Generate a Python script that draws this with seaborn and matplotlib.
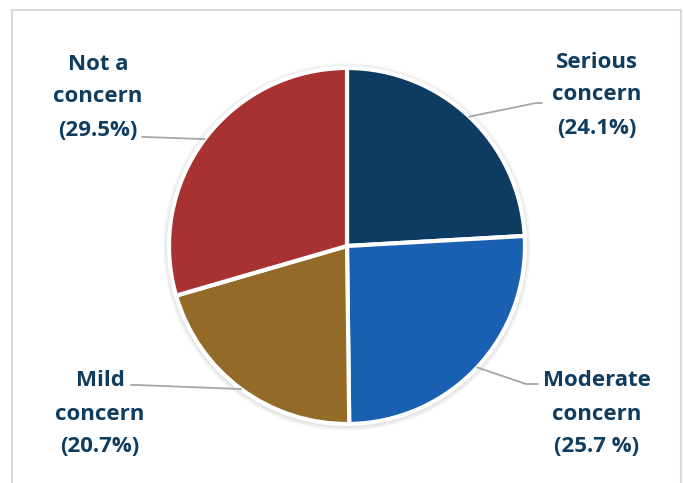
import numpy as np
import matplotlib
matplotlib.use("Agg")
import matplotlib.pyplot as plt
from matplotlib.patches import Rectangle, Circle
import seaborn as sns

sns.set_style("white")
plt.rcParams['font.family'] = ['Open Sans', 'DejaVu Sans']

# data
categories = ["Serious\nconcern", "Moderate\nconcern", "Mild\nconcern", "Not a\nconcern"]
pct_labels = ["(24.1%)", "(25.7 %)", "(20.7%)", "(29.5%)"]
shares = [24.1, 25.7, 20.7, 29.5]
colors = ["#0E3B61", "#1A60B2", "#936A28", "#A83131"]
text_color = "#0F3C5F"

W, H = 684, 483
fig = plt.figure(figsize=(W / 100, H / 100), dpi=100)
ax = fig.add_axes([0, 0, 1, 1])

cx, cy, r = 347, H - 246, 178

# soft shadow around the pie
for k in range(6):
    ax.add_patch(Circle((cx, cy - 1), r + 1 + k, color="black", alpha=0.025, lw=0, zorder=0))

wedges, _ = ax.pie(shares, colors=colors, startangle=90, counterclock=False,
                   center=(cx, cy), radius=r, frame=True,
                   wedgeprops={"edgecolor": "white", "linewidth": 3})
ax.set_xlim(0, W)
ax.set_ylim(0, H)
ax.set_aspect("equal")
ax.axis("off")

# label placement (image pixel coords) and leader line end points
text_pos = [(597, 95), (597, 414), (100, 414), (98, 97)]
leader_end = [(542, 103), (538, 384), (131, 385), (142, 137)]
leader_kink = [(536, 103), (526, 384), (137, 385), (146, 137)]

for w, cat, pl, tp, le, lk in zip(wedges, categories, pct_labels, text_pos, leader_end, leader_kink):
    mid = np.deg2rad((w.theta1 + w.theta2) / 2)
    ex, ey = cx + r * np.cos(mid), cy + r * np.sin(mid)
    ax.plot([ex, lk[0], le[0]], [ey, H - lk[1], H - le[1]], color="#A6A6A6", lw=1.3, zorder=3)
    ax.text(tp[0], H - tp[1], cat + "\n" + pl, ha="center", va="center",
            fontsize=16, fontweight="bold", color=text_color, linespacing=1.75)

fig.add_artist(Rectangle((12 / W, -0.01), (681 - 12) / W, (H - 10) / H + 0.01,
                         transform=fig.transFigure, fill=False, edgecolor="#D9D9D9", lw=1.5))

fig.savefig("out.png", dpi=100)
